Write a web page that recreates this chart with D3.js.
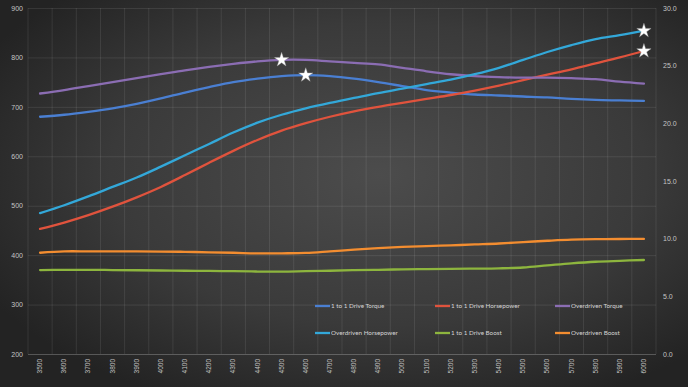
<!DOCTYPE html>
<html>
<head>
<meta charset="utf-8">
<script src="https://cdn.jsdelivr.net/npm/d3@7"></script>
<style>
  html, body { margin: 0; padding: 0; background: #2a2a2a; }
  svg { display: block; font-family: Lato, "Open Sans", sans-serif; }
</style>
</head>
<body>
<svg id="chart" width="688" height="387"></svg>
<script>
// data
const rpm = [3500, 3600, 3700, 3800, 3900, 4000, 4100, 4200, 4300, 4400, 4500, 4600, 4700,
             4800, 4900, 5000, 5100, 5200, 5300, 5400, 5500, 5600, 5700, 5800, 5900, 6000];

const torque11 = [680, 684, 690, 697, 706, 717, 729, 740, 750, 757, 762, 764, 762,
                  757, 750, 742, 734, 729, 725, 723, 721, 719, 716, 714, 713, 712];
const hp11 = [453, 466, 481, 498, 517, 538, 562, 587, 611, 633, 652, 667, 680,
              691, 700, 708, 716, 724, 733, 743, 754, 765, 776, 788, 800, 813];
const torqueOD = [727, 734, 742, 750, 758, 766, 774, 781, 787, 792, 795, 795, 792,
                  789, 786, 779, 772, 766, 762, 760, 759, 759, 758, 756, 751, 747];
const hpOD = [485, 501, 519, 538, 557, 579, 602, 625, 648, 668, 684, 697, 708,
              718, 728, 737, 746, 755, 766, 779, 795, 811, 825, 837, 845, 854];
const boost11 = [7.28, 7.3, 7.3, 7.28, 7.26, 7.24, 7.22, 7.2, 7.18, 7.15, 7.14, 7.18, 7.22,
                 7.27, 7.3, 7.34, 7.36, 7.38, 7.4, 7.43, 7.5, 7.68, 7.86, 8.0, 8.08, 8.15];
const boostOD = [8.78, 8.9, 8.9, 8.9, 8.9, 8.88, 8.86, 8.82, 8.78, 8.72, 8.73, 8.76, 8.9,
                 9.05, 9.18, 9.28, 9.35, 9.42, 9.5, 9.58, 9.7, 9.82, 9.92, 9.96, 9.97, 9.98];

const leftTicks = [200, 300, 400, 500, 600, 700, 800, 900];
const rightTicks = [0, 5, 10, 15, 20, 25, 30];

// series: name, values, axis, colour
const series = [
  {name: "1 to 1 Drive Torque", values: torque11, axis: "left", color: "#4a7fd2"},
  {name: "1 to 1 Drive Horsepower", values: hp11, axis: "left", color: "#e0533d"},
  {name: "Overdriven Torque", values: torqueOD, axis: "left", color: "#8b6db3"},
  {name: "Overdriven Horsepower", values: hpOD, axis: "left", color: "#33a8d9"},
  {name: "1 to 1 Drive Boost", values: boost11, axis: "right", color: "#8db53e"},
  {name: "Overdriven Boost", values: boostOD, axis: "right", color: "#f38d30"}
];

// peak markers: series index + rpm
const stars = [
  {s: 2, at: 4500},
  {s: 0, at: 4600},
  {s: 3, at: 6000},
  {s: 1, at: 6000}
];

const W = 688, H = 387;
const plotL = 28, plotR = 656, plotT = 8, plotB = 354;

const svg = d3.select("#chart");

// background
const defs = svg.append("defs");
const bg = defs.append("radialGradient")
  .attr("id", "bg")
  .attr("cx", "55%").attr("cy", "45%").attr("r", "65%");
bg.append("stop").attr("offset", "0%").attr("stop-color", "#4c4c4c");
bg.append("stop").attr("offset", "60%").attr("stop-color", "#3a3a3a");
bg.append("stop").attr("offset", "100%").attr("stop-color", "#232323");
svg.append("rect").attr("width", W).attr("height", H).attr("fill", "url(#bg)");

const x = d3.scaleBand().domain(rpm).range([plotL, plotR]);
const yL = d3.scaleLinear().domain([200, 900]).range([plotB, plotT]);
const yR = d3.scaleLinear().domain([0, 30]).range([plotB, plotT]);

// gridlines
const grid = svg.append("g").attr("stroke", "#ffffff").attr("stroke-opacity", 0.09);
grid.selectAll(".h").data(leftTicks).join("line")
  .attr("x1", plotL).attr("x2", plotR)
  .attr("y1", d => yL(d) + 0.5).attr("y2", d => yL(d) + 0.5);
grid.selectAll(".v").data(rpm.concat(["end"])).join("line")
  .attr("x1", d => d === "end" ? plotR : x(d))
  .attr("x2", d => d === "end" ? plotR : x(d))
  .attr("y1", plotT).attr("y2", plotB);
svg.append("line")
  .attr("x1", plotL).attr("x2", plotR)
  .attr("y1", plotB + 0.5).attr("y2", plotB + 0.5)
  .attr("stroke", "#ffffff").attr("stroke-opacity", 0.16);

// axes
const axisColor = "#c4c4c4";
const axL = svg.append("g")
  .attr("transform", `translate(${plotL},0)`)
  .call(d3.axisLeft(yL).tickValues(leftTicks).tickSize(0).tickPadding(5));
const axR = svg.append("g")
  .attr("transform", `translate(${plotR},0)`)
  .call(d3.axisRight(yR).tickValues(rightTicks).tickSize(0).tickPadding(7).tickFormat(d3.format(".1f")));
const axB = svg.append("g")
  .attr("transform", `translate(0,${plotB})`)
  .call(d3.axisBottom(x).tickSize(0).tickPadding(0));
[axL, axR, axB].forEach(a => {
  a.select(".domain").remove();
  a.selectAll("text").attr("fill", axisColor).style("font-size", "7px");
});
axB.selectAll("text")
  .attr("transform", "translate(0,5) rotate(-90)")
  .attr("text-anchor", "end")
  .attr("dy", "0.32em")
  .attr("y", 0)
  .style("font-size", "6.5px");

// lines
const cx = d => x(d) + x.bandwidth() / 2;
series.forEach(s => {
  const y = s.axis === "left" ? yL : yR;
  const line = d3.line()
    .x((d, i) => cx(rpm[i]))
    .y(d => y(d))
    .curve(d3.curveCatmullRom.alpha(0.5));
  svg.append("path")
    .datum(s.values)
    .attr("d", line)
    .attr("fill", "none")
    .attr("stroke", s.color)
    .attr("stroke-width", 2.3)
    .attr("stroke-linecap", "round");
});

// stars
const star = d3.symbol(d3.symbolStar).size(64);
stars.forEach(p => {
  const s = series[p.s];
  const i = rpm.indexOf(p.at);
  const y = s.axis === "left" ? yL : yR;
  svg.append("path")
    .attr("d", star())
    .attr("transform", `translate(${cx(p.at)},${y(s.values[i])})`)
    .attr("fill", "#ffffff")
    .attr("stroke", "#999")
    .attr("stroke-width", 0.4);
});

// legend
const legX = [315, 435, 555], legY = [306, 333];
const leg = svg.append("g");
series.forEach((s, i) => {
  const g = leg.append("g")
    .attr("transform", `translate(${legX[i % 3]},${legY[Math.floor(i / 3)]})`);
  g.append("line").attr("x1", 0).attr("x2", 15)
    .attr("stroke", s.color).attr("stroke-width", 2.3);
  g.append("text").attr("x", 16).attr("dy", "0.35em")
    .attr("fill", "#d4d4d4").style("font-size", "6.3px")
    .text(s.name);
});
</script>
</body>
</html>
